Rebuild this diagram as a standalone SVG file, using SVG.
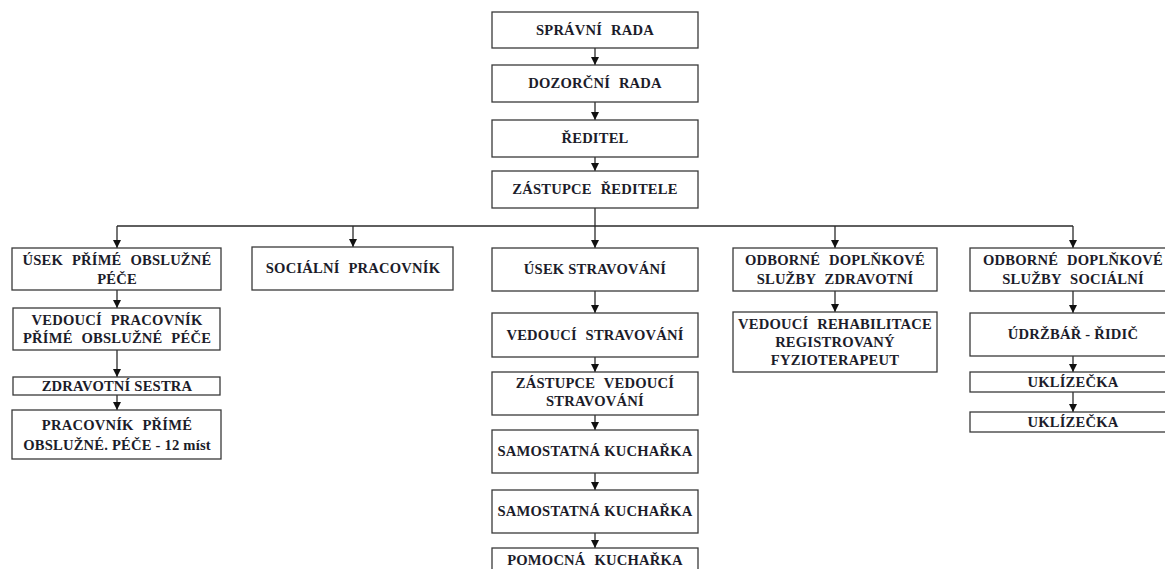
<svg xmlns="http://www.w3.org/2000/svg" width="1165" height="569" viewBox="0 0 1165 569">
<style>
.b{fill:#fff;stroke:#3a3a3a;stroke-width:1.3}
.t{font-family:"Liberation Serif",serif;font-weight:bold;font-size:14.6px;fill:#1c1c2a;text-anchor:middle;letter-spacing:0.2px;word-spacing:5px}
.n{word-spacing:0}
.c{stroke:#2a2a2a;stroke-width:1.3;fill:none;marker-end:url(#a)}
.l{stroke:#2a2a2a;stroke-width:1.3;fill:none}
</style>
<defs>
<marker id="a" markerWidth="8" markerHeight="8" refX="8" refY="4" orient="auto" markerUnits="userSpaceOnUse">
<path d="M0,0 L8,4 L0,8 z" fill="#111"/>
</marker>
</defs>
<rect width="1165" height="569" fill="#fff"/>
<g id="connectors">
<line class="c" x1="595" y1="48" x2="595" y2="65"/>
<line class="c" x1="595" y1="102" x2="595" y2="120"/>
<line class="c" x1="595" y1="157" x2="595" y2="171"/>
<line class="l" x1="595" y1="208" x2="595" y2="226"/>
<line class="l" x1="117" y1="226" x2="1073" y2="226"/>
<line class="c" x1="117" y1="226" x2="117" y2="248"/>
<line class="c" x1="353" y1="226" x2="353" y2="247"/>
<line class="c" x1="595" y1="226" x2="595" y2="248"/>
<line class="c" x1="835" y1="226" x2="835" y2="248"/>
<line class="c" x1="1073" y1="226" x2="1073" y2="248"/>
<line class="c" x1="117" y1="290" x2="117" y2="308"/>
<line class="c" x1="117" y1="350" x2="117" y2="377"/>
<line class="c" x1="117" y1="395" x2="117" y2="410"/>
<line class="c" x1="595" y1="291" x2="595" y2="313"/>
<line class="c" x1="595" y1="357" x2="595" y2="372"/>
<line class="c" x1="595" y1="415" x2="595" y2="430"/>
<line class="c" x1="595" y1="473" x2="595" y2="490"/>
<line class="c" x1="595" y1="533" x2="595" y2="548"/>
<line class="c" x1="835" y1="291" x2="835" y2="312"/>
<line class="c" x1="1073" y1="291" x2="1073" y2="313"/>
<line class="c" x1="1073" y1="356" x2="1073" y2="372"/>
<line class="c" x1="1073" y1="392" x2="1073" y2="412"/>
</g>
<g id="spravni-rada"><rect class="b" x="492" y="12" width="206" height="36"/><text class="t" x="595" y="35">SPRÁVNÍ RADA</text></g>
<g id="dozorci-rada"><rect class="b" x="492" y="65" width="206" height="37"/><text class="t" x="595" y="88">DOZORČNÍ RADA</text></g>
<g id="reditel"><rect class="b" x="492" y="120" width="206" height="37"/><text class="t" x="595" y="143">ŘEDITEL</text></g>
<g id="zastupce-reditele"><rect class="b" x="492" y="171" width="206" height="37"/><text class="t" x="595" y="194">ZÁSTUPCE ŘEDITELE</text></g>

<g id="usek-prime"><rect class="b" x="12" y="248" width="209" height="42"/><text class="t" x="117" y="265">ÚSEK PŘÍMÉ OBSLUŽNÉ</text><text class="t" x="117" y="284">PÉČE</text></g>
<g id="vedouci-pracovnik"><rect class="b" x="13" y="308" width="207" height="42"/><text class="t" x="117" y="325">VEDOUCÍ PRACOVNÍK</text><text class="t" x="117" y="343">PŘÍMÉ OBSLUŽNÉ PÉČE</text></g>
<g id="zdravotni-sestra"><rect class="b" x="13" y="377" width="207" height="18"/><text class="t n" x="117" y="391">ZDRAVOTNÍ SESTRA</text></g>
<g id="pracovnik-prime"><rect class="b" x="12" y="410" width="209" height="49"/><text class="t" x="117" y="430">PRACOVNÍK PŘÍMÉ</text><text class="t n" x="117" y="450">OBSLUŽNÉ.  PÉČE - 12 míst</text></g>

<g id="socialni-pracovnik"><rect class="b" x="252" y="247" width="201" height="43"/><text class="t" x="353" y="273">SOCIÁLNÍ PRACOVNÍK</text></g>

<g id="usek-stravovani"><rect class="b" x="492" y="248" width="206" height="43"/><text class="t n" x="595" y="274">ÚSEK STRAVOVÁNÍ</text></g>
<g id="vedouci-stravovani"><rect class="b" x="492" y="313" width="206" height="44"/><text class="t" x="595" y="340">VEDOUCÍ STRAVOVÁNÍ</text></g>
<g id="zastupce-vedouci"><rect class="b" x="492" y="372" width="206" height="43"/><text class="t" x="595" y="388">ZÁSTUPCE VEDOUCÍ</text><text class="t" x="595" y="406">STRAVOVÁNÍ</text></g>
<g id="samostatna-1"><rect class="b" x="492" y="430" width="206" height="43"/><text class="t n" x="595" y="456">SAMOSTATNÁ KUCHAŘKA</text></g>
<g id="samostatna-2"><rect class="b" x="492" y="490" width="206" height="43"/><text class="t n" x="595" y="516">SAMOSTATNÁ KUCHAŘKA</text></g>
<g id="pomocna"><rect class="b" x="492" y="548" width="206" height="40"/><text class="t" x="595" y="565">POMOCNÁ KUCHAŘKA</text></g>

<g id="odborne-zdravotni"><rect class="b" x="733" y="248" width="204" height="43"/><text class="t" x="835" y="265">ODBORNÉ DOPLŇKOVÉ</text><text class="t" x="835" y="284">SLUŽBY ZDRAVOTNÍ</text></g>
<g id="vedouci-rehabilitace"><rect class="b" x="733" y="312" width="204" height="60"/><text class="t" x="835" y="329">VEDOUCÍ REHABILITACE</text><text class="t" x="835" y="347">REGISTROVANÝ</text><text class="t" x="835" y="365">FYZIOTERAPEUT</text></g>

<g id="odborne-socialni"><rect class="b" x="970" y="248" width="206" height="43"/><text class="t" x="1073" y="265">ODBORNÉ DOPLŇKOVÉ</text><text class="t" x="1073" y="284">SLUŽBY SOCIÁLNÍ</text></g>
<g id="udrzbar"><rect class="b" x="970" y="313" width="206" height="43"/><text class="t n" x="1073" y="339">ÚDRŽBÁŘ - ŘIDIČ</text></g>
<g id="uklizecka-1"><rect class="b" x="970" y="372" width="206" height="20"/><text class="t" x="1073" y="387">UKLÍZEČKA</text></g>
<g id="uklizecka-2"><rect class="b" x="970" y="412" width="206" height="20"/><text class="t" x="1073" y="427">UKLÍZEČKA</text></g>
</svg>
